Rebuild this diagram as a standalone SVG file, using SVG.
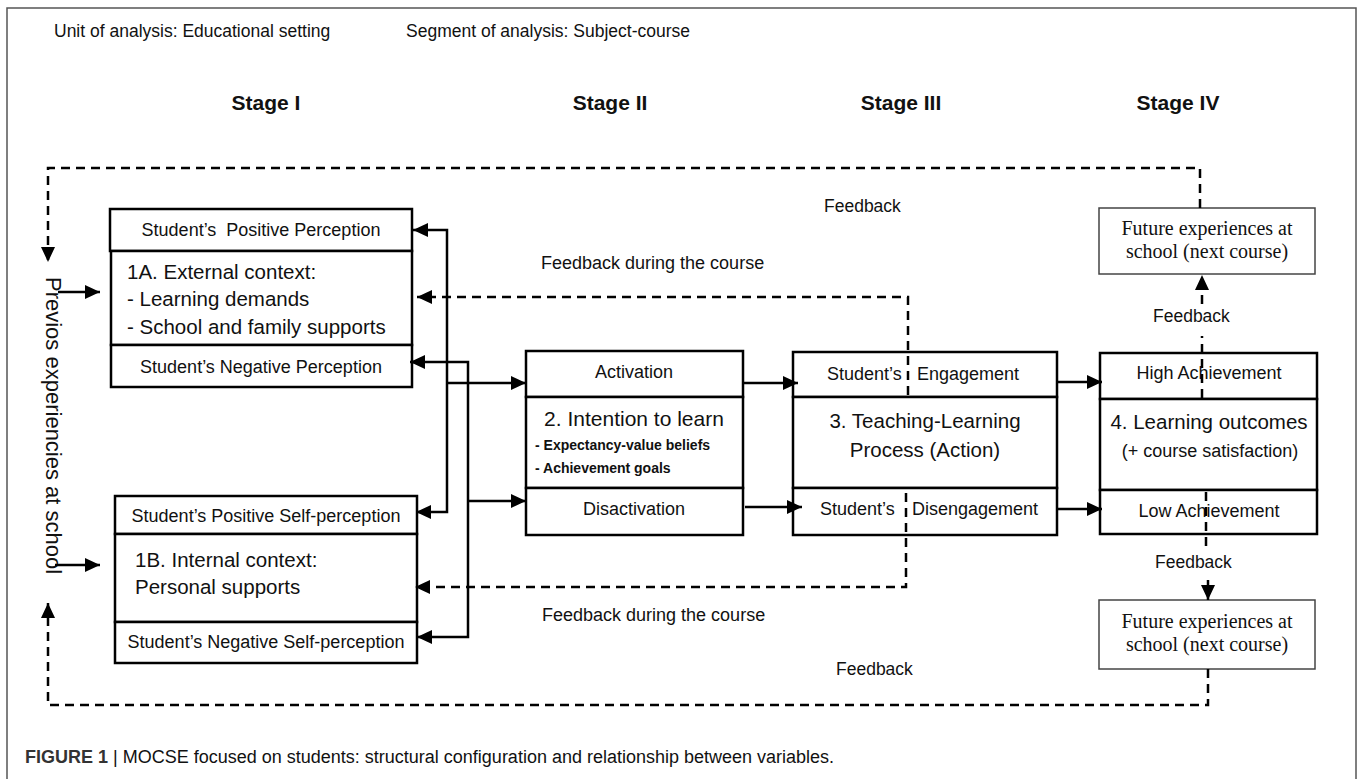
<svg xmlns="http://www.w3.org/2000/svg" width="1358" height="779" viewBox="0 0 1358 779">
<style>
.box{fill:#fff;stroke:#000;stroke-width:2.5}
.fbox{fill:#fff;stroke:#444;stroke-width:1.5}
.t{font-family:"Liberation Sans",Arial,sans-serif;fill:#111}
.s{font-family:"Liberation Serif","Times New Roman",serif;fill:#111;font-size:20px}
.m{text-anchor:middle}
.row{font-size:18px}
.big{font-size:20.5px}
.stage{font-size:21px;font-weight:bold}
.solid{fill:none;stroke:#000;stroke-width:2.5}
.dash{fill:none;stroke:#000;stroke-width:2.5;stroke-dasharray:9 6}
.frame{fill:none;stroke:#555;stroke-width:1.5}
</style>
<defs>
<marker id="ah" markerUnits="userSpaceOnUse" markerWidth="15" markerHeight="14" refX="15" refY="7" orient="auto">
<path d="M0,0 L15,7 L0,14 z" fill="#000"/>
</marker>
</defs>
<rect width="1358" height="779" fill="#fff"/>
<path class="frame" d="M7,779 V8 H1356 V779"/>

<g id="header">
<text class="t" x="54" y="37" font-size="17.5">Unit of analysis: Educational setting</text>
<text class="t" x="406" y="37" font-size="17.5">Segment of analysis: Subject-course</text>
<text class="t stage m" x="266" y="110">Stage I</text>
<text class="t stage m" x="610" y="110">Stage II</text>
<text class="t stage m" x="901" y="110">Stage III</text>
<text class="t stage m" x="1178" y="110">Stage IV</text>
</g>

<g id="previous">
<text class="t" font-size="22" transform="translate(46,277) rotate(90)">Previos experiencies at school</text>
</g>

<g id="node1A">
<rect class="box" x="110" y="209" width="302" height="42"/>
<rect class="box" x="111" y="251" width="301" height="94"/>
<rect class="box" x="111" y="345" width="301" height="42"/>
<text class="t row m" x="261" y="236">Student’s&#160; Positive Perception</text>
<text class="t big" x="127" y="279">1A. External context:</text>
<text class="t big" x="127" y="306">- Learning demands</text>
<text class="t big" x="127" y="334">- School and family supports</text>
<text class="t row m" x="261" y="373">Student’s Negative Perception</text>
</g>

<g id="node1B">
<rect class="box" x="115" y="496" width="302" height="38"/>
<rect class="box" x="115" y="534" width="302" height="88"/>
<rect class="box" x="115" y="622" width="302" height="41"/>
<text class="t row m" x="266" y="522">Student’s Positive Self-perception</text>
<text class="t big" x="135" y="567">1B. Internal context:</text>
<text class="t big" x="135" y="594">Personal supports</text>
<text class="t row m" x="266" y="648">Student’s Negative Self-perception</text>
</g>

<g id="node2">
<rect class="box" x="526" y="351" width="217" height="46"/>
<rect class="box" x="526" y="397" width="217" height="91"/>
<rect class="box" x="526" y="488" width="217" height="47"/>
<text class="t row m" x="634" y="378">Activation</text>
<text class="t m" x="634" y="426" font-size="21">2. Intention to learn</text>
<text class="t" x="535" y="450" font-size="14" font-weight="bold">- Expectancy-value beliefs</text>
<text class="t" x="535" y="473" font-size="14" font-weight="bold">- Achievement goals</text>
<text class="t row m" x="634" y="515">Disactivation</text>
</g>

<g id="node3">
<rect class="box" x="793" y="352" width="264" height="45"/>
<rect class="box" x="793" y="397" width="264" height="91"/>
<rect class="box" x="793" y="488" width="264" height="47"/>
<text class="t row" x="827" y="380">Student’s</text>
<text class="t row" x="917" y="380">Engagement</text>
<text class="t big m" x="925" y="428">3. Teaching-Learning</text>
<text class="t big m" x="925" y="457">Process (Action)</text>
<text class="t row" x="820" y="515">Student’s</text>
<text class="t row" x="912" y="515">Disengagement</text>
</g>

<g id="node4">
<rect class="box" x="1100" y="353" width="217" height="46"/>
<rect class="box" x="1100" y="399" width="217" height="91"/>
<rect class="box" x="1100" y="490" width="217" height="44"/>
<text class="t row m" x="1209" y="379">High Achievement</text>
<text class="t big m" x="1209" y="429">4. Learning outcomes</text>
<text class="t row m" x="1210" y="457">(+ course satisfaction)</text>
<text class="t row m" x="1209" y="517">Low Achievement</text>
</g>

<g id="futureTop">
<rect class="fbox" x="1099" y="208" width="216" height="66"/>
<text class="s m" x="1207" y="235">Future experiences at</text>
<text class="s m" x="1207" y="258">school (next course)</text>
</g>

<g id="futureBottom">
<rect class="fbox" x="1099" y="600" width="216" height="69"/>
<text class="s m" x="1207" y="628">Future experiences at</text>
<text class="s m" x="1207" y="651">school (next course)</text>
</g>

<g id="connectors">
<path class="dash" d="M1200,208 V168 H48 V262" marker-end="url(#ah)"/>
<path class="dash" d="M1208,669 V705 H48 V603" marker-end="url(#ah)"/>
<path class="dash" d="M908,395 V297 H417" marker-end="url(#ah)"/>
<path class="dash" d="M906,493 V587 H415" marker-end="url(#ah)"/>
<path class="dash" d="M1202,398 V336"/>
<path class="dash" d="M1202,304 V275" marker-end="url(#ah)"/>
<path class="dash" d="M1206,492 V550"/>
<path class="solid" d="M1208,580 V600" marker-end="url(#ah)"/>
<path class="solid" d="M58,292 H100" marker-end="url(#ah)"/>
<path class="solid" d="M55,565 H100" marker-end="url(#ah)"/>
<path class="solid" d="M447,383 V230 H413" marker-end="url(#ah)"/>
<path class="solid" d="M447,383 V512 H416" marker-end="url(#ah)"/>
<path class="solid" d="M447,383 H526" marker-end="url(#ah)"/>
<path class="solid" d="M468,501 V362 H410" marker-end="url(#ah)"/>
<path class="solid" d="M468,501 V637 H417" marker-end="url(#ah)"/>
<path class="solid" d="M468,501 H526" marker-end="url(#ah)"/>
<path class="solid" d="M743,383 H798" marker-end="url(#ah)"/>
<path class="solid" d="M745,507 H802" marker-end="url(#ah)"/>
<path class="solid" d="M1057,382 H1102" marker-end="url(#ah)"/>
<path class="solid" d="M1057,509 H1102" marker-end="url(#ah)"/>
</g>

<g id="labels">
<text class="t" x="824" y="212" font-size="17.5">Feedback</text>
<text class="t" x="541" y="269" font-size="18">Feedback during the course</text>
<text class="t" x="542" y="621" font-size="18">Feedback during the course</text>
<text class="t" x="1153" y="322" font-size="17.5">Feedback</text>
<text class="t" x="1155" y="568" font-size="17.5">Feedback</text>
<text class="t" x="836" y="675" font-size="17.5">Feedback</text>
</g>

<g id="caption">
<text class="t" x="25" y="763" font-size="18" fill="#444"><tspan font-weight="bold" fill="#333">FIGURE 1</tspan> | MOCSE focused on students: structural configuration and relationship between variables.</text>
</g>
</svg>
